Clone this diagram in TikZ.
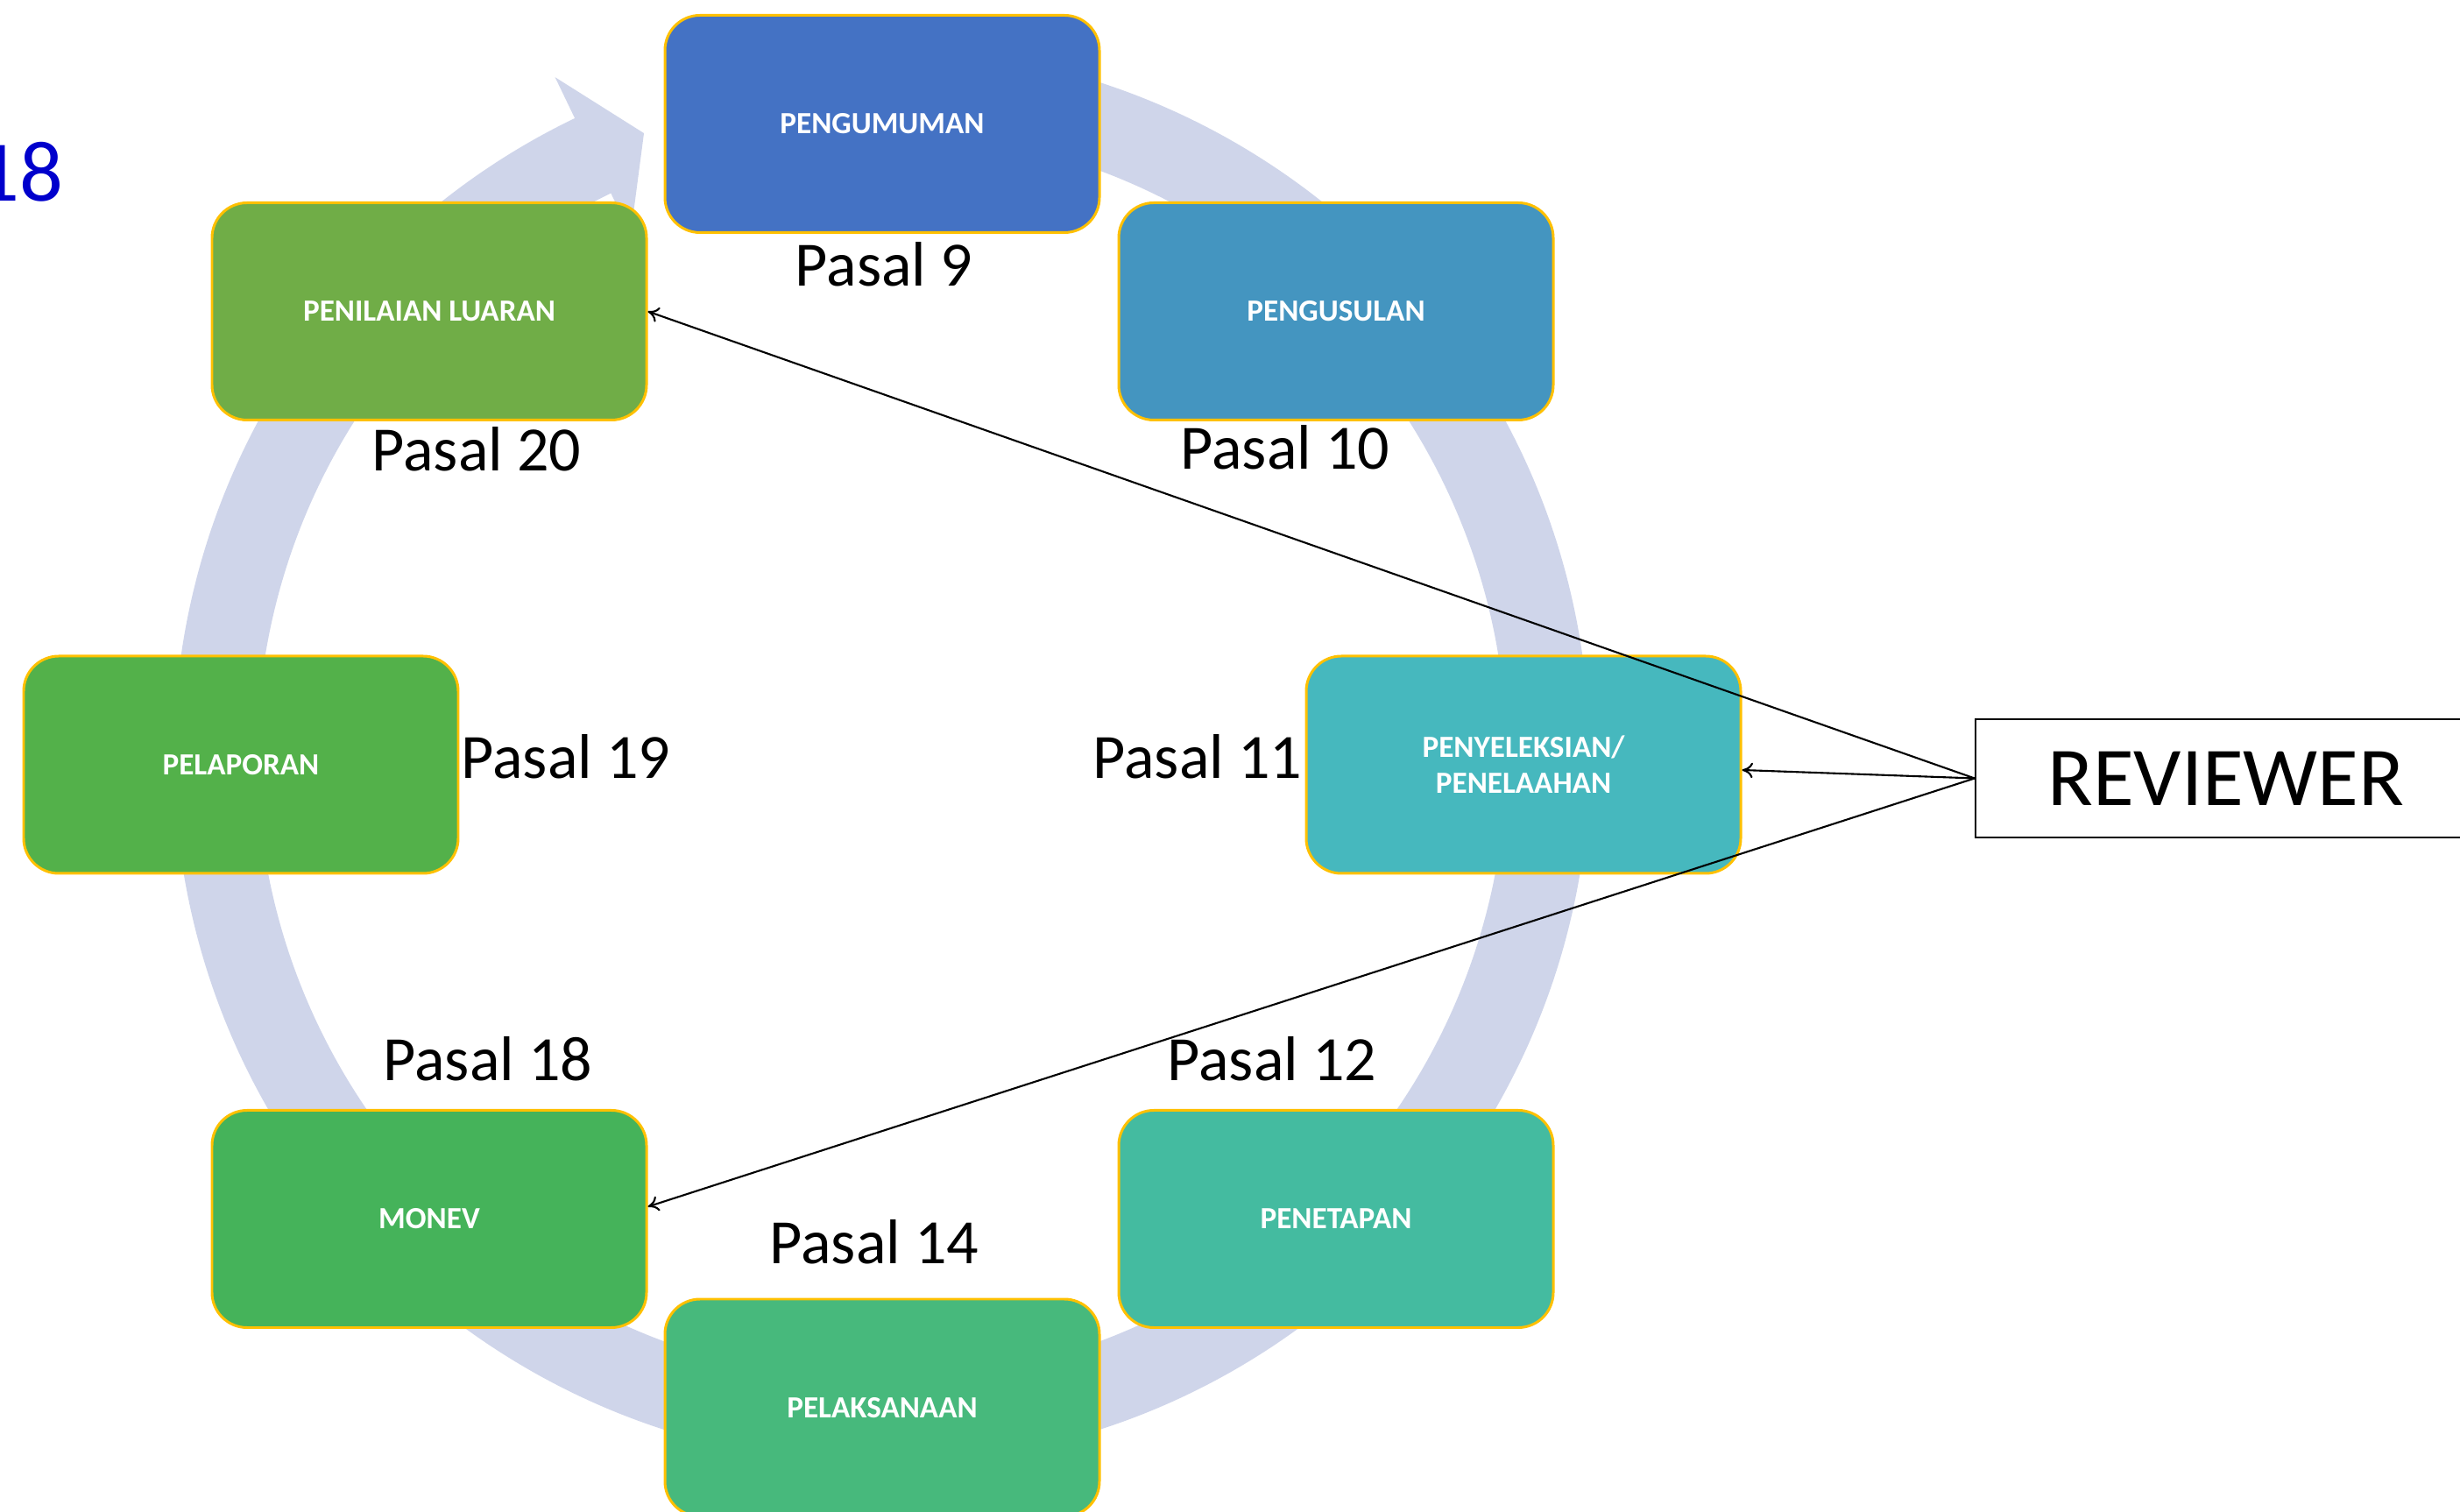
\documentclass[tikz,border=0pt]{standalone}
\usepackage{fontspec}
\setmainfont{Carlito}
\usetikzlibrary{positioning,arrows.meta}
\definecolor{ringblue}{HTML}{CFD5EA}
\definecolor{gold}{HTML}{FFC000}
\definecolor{cPeng}{HTML}{4472C4}
\definecolor{cUsul}{HTML}{4495C0}
\definecolor{cSeleksi}{HTML}{46B8BE}
\definecolor{cTetap}{HTML}{44BBA0}
\definecolor{cLaksana}{HTML}{47B97C}
\definecolor{cMonev}{HTML}{45B35A}
\definecolor{cLapor}{HTML}{53B14A}
\definecolor{cNilai}{HTML}{70AD47}
\definecolor{yearblue}{RGB}{0,0,204}
\tikzset{
  stagebox/.style={draw=gold, line width=0.85pt, rounded corners=0.4cm,
    minimum width=4.96cm, minimum height=2.48cm, text=white, align=center,
    font=\fontsize{10}{11.7}\selectfont\bfseries},
  pasal/.style={font=\fontsize{20.5}{24}\selectfont, anchor=base, inner sep=0pt},
  link/.style={-{To[length=3.5pt,width=5pt]}, line width=0.6pt}
}
\begin{document}
\begin{tikzpicture}
  \useasboundingbox (0,0) rectangle (28.08,17.26);
  % circular arrow behind the stages
  \begin{scope}[shift={(10.065,8.63)}]
    \fill[ringblue] (95:8.08) arc[start angle=95, end angle=-244.3, radius=8.08]
      -- (115.7:8.60) -- (110.9:7.61) -- (115.7:6.61) -- (115.7:7.13)
      arc[start angle=-244.3, end angle=95, radius=7.13] -- cycle;
  \end{scope}
  \node[font=\fontsize{28}{32}\selectfont, text=yearblue, anchor=base east, inner sep=0pt] (year) at (0.73,14.96) {18};
  % stages
  \node[stagebox, fill=cPeng] (peng) at (10.07,15.845) {PENGUMUMAN};
  \node[stagebox, fill=cUsul] (usul) at (15.25,13.705) {PENGUSULAN};
  \node[stagebox, fill=cSeleksi] (seleksi) at (17.39,8.53) {PENYELEKSIAN/\\PENELAAHAN};
  \node[stagebox, fill=cTetap] (tetap) at (15.25,3.345) {PENETAPAN};
  \node[stagebox, fill=cLaksana] (laksana) at (10.07,1.19) {PELAKSANAAN};
  \node[stagebox, fill=cMonev] (monev) at (4.90,3.345) {MONEV};
  \node[stagebox, fill=cLapor] (lapor) at (2.75,8.53) {PELAPORAN};
  \node[stagebox, fill=cNilai] (nilai) at (4.90,13.705) {PENILAIAN LUARAN};
  % articles
  \node[pasal] (p9) at (10.09,13.99) {Pasal 9};
  \node[pasal] (p10) at (14.67,11.90) {Pasal 10};
  \node[pasal] (p11) at (13.67,8.37) {Pasal 11};
  \node[pasal] (p12) at (14.52,4.92) {Pasal 12};
  \node[pasal] (p14) at (9.98,2.83) {Pasal 14};
  \node[pasal] (p18) at (5.57,4.92) {Pasal 18};
  \node[pasal] (p19) at (6.46,8.37) {Pasal 19};
  \node[pasal] (p20) at (5.44,11.88) {Pasal 20};
  % reviewer
  \node[draw, line width=0.6pt, minimum width=5.72cm, minimum height=1.35cm,
    font=\fontsize{27.2}{31}\selectfont] (rev) at (25.41,8.375) {REVIEWER};
  \draw[link] (rev.west) -- (nilai.east);
  \draw[link] (rev.west) -- ([yshift=-0.6mm]seleksi.east);
  \draw[link] (rev.west) -- ([yshift=1.4mm]monev.east);
\end{tikzpicture}
\end{document}
